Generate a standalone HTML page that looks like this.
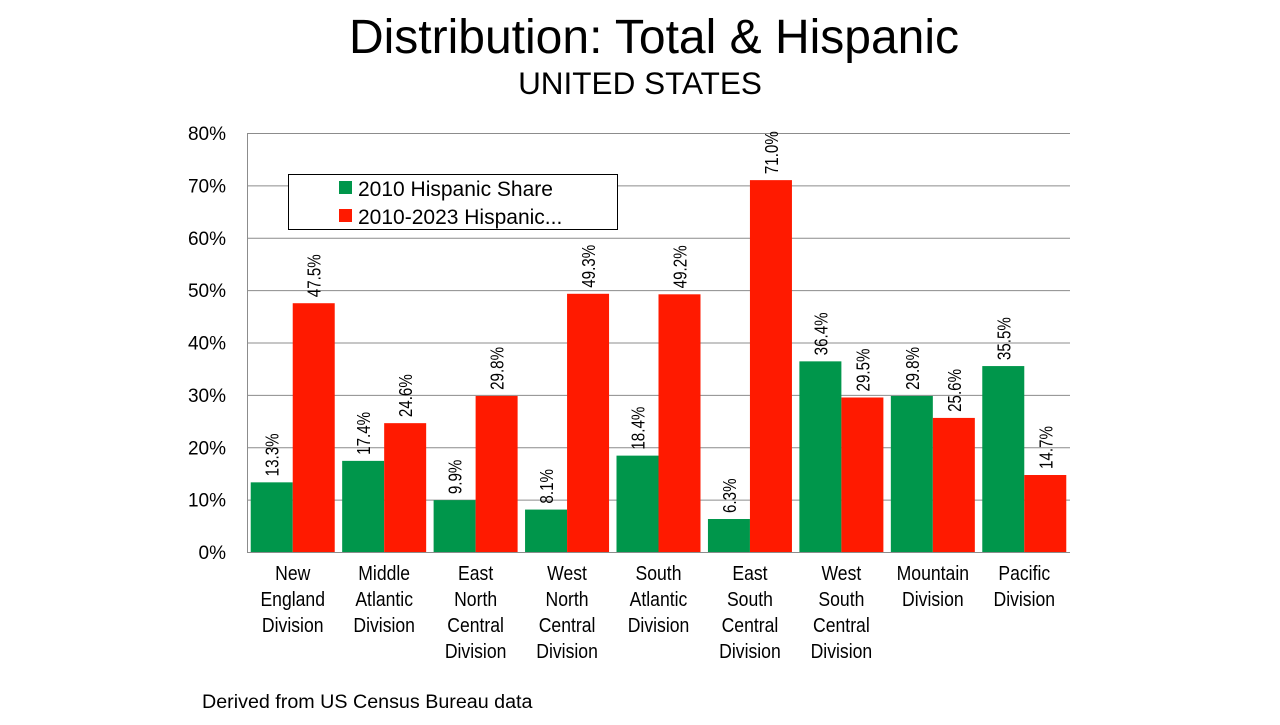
<!DOCTYPE html>
<html><head><meta charset="utf-8"><style>
body{margin:0;background:#fff;width:1280px;height:720px;overflow:hidden;font-family:"Liberation Sans",sans-serif}
</style></head><body>
<svg width="1280" height="720" xmlns="http://www.w3.org/2000/svg" id="svg">
<text x="654" y="53" font-size="48" text-anchor="middle">Distribution: Total &amp; Hispanic</text>
<text x="640" y="94" font-size="31.5" text-anchor="middle">UNITED STATES</text>
<text x="202" y="708" font-size="19.7">Derived from US Census Bureau data</text>
<g id="grid"></g><g id="bars"></g><g id="labels"></g>
<g>
<rect x="288.5" y="174.5" width="329" height="55" fill="#fff" stroke="#000" stroke-width="1"/>
<rect x="339" y="181" width="13" height="13" fill="#00964b"/>
<text x="358" y="196" font-size="21">2010 Hispanic Share</text>
<rect x="339" y="209" width="13" height="13" fill="#ff1a00"/>
<text x="358" y="224" font-size="21">2010-2023 Hispanic...</text>
</g>
</svg>
<script>
const categories=[["New","England","Division"],["Middle","Atlantic","Division"],["East","North","Central","Division"],["West","North","Central","Division"],["South","Atlantic","Division"],["East","South","Central","Division"],["West","South","Central","Division"],["Mountain","Division"],["Pacific","Division"]];
const share2010=[13.3,17.4,9.9,8.1,18.4,6.3,36.4,29.8,35.5];
const share20102023=[47.5,24.6,29.8,49.3,49.2,71.0,29.5,25.6,14.7];
const yTicks=[0,10,20,30,40,50,60,70,80];
const NS="http://www.w3.org/2000/svg";
const x0=247,x1=1070,yb=552,yt=133,yMax=80;
const y=v=>yb-(v/yMax)*(yb-yt);
const band=(x1-x0)/categories.length;
function mk(t,a,p){const e=document.createElementNS(NS,t);for(const k in a)e.setAttribute(k,a[k]);p.appendChild(e);return e;}
const grid=document.getElementById('grid'),bars=document.getElementById('bars'),labels=document.getElementById('labels');
yTicks.forEach(t=>{
  const l=mk('line',{x1:x0,x2:x1,y1:y(t)+.5,y2:y(t)+.5,stroke:'#8c8c8c','stroke-width':1},grid);
  
  
  const tx=mk('text',{x:226,y:y(t)+7,'font-size':19,'text-anchor':'end'},grid);tx.textContent=t+'%';
  
  
});
const ax=mk('line',{x1:x0+.5,x2:x0+.5,y1:yt,y2:yb,stroke:'#8c8c8c'},grid);


const bw=42;
categories.forEach((c,i)=>{
  const cx=x0+band*i+band/2;
  [[share2010[i],'#00964b',cx-bw,'green'],[share20102023[i],'#ff1a00',cx,'red']].forEach(([v,col,bx,nm])=>{
    const r=mk('rect',{x:bx,y:y(v),width:bw,height:yb-y(v),fill:col},bars);
    
    
    const lx=bx+bw/2+7,ly=y(v)-6;
    const t=mk('text',{x:0,y:0,'font-size':18.5,transform:`translate(${lx},${ly}) rotate(-90) scale(0.82,1)`},labels);
    t.textContent=v.toFixed(1)+'%';
    
    
  });
  c.forEach((w,j)=>{
    const t=mk('text',{x:0,y:0,'font-size':20,'text-anchor':'middle',transform:`translate(${cx},${580+j*26}) scale(0.88,1)`},labels);
    t.textContent=w;
    
    
  });
});
</script>
</body></html>
